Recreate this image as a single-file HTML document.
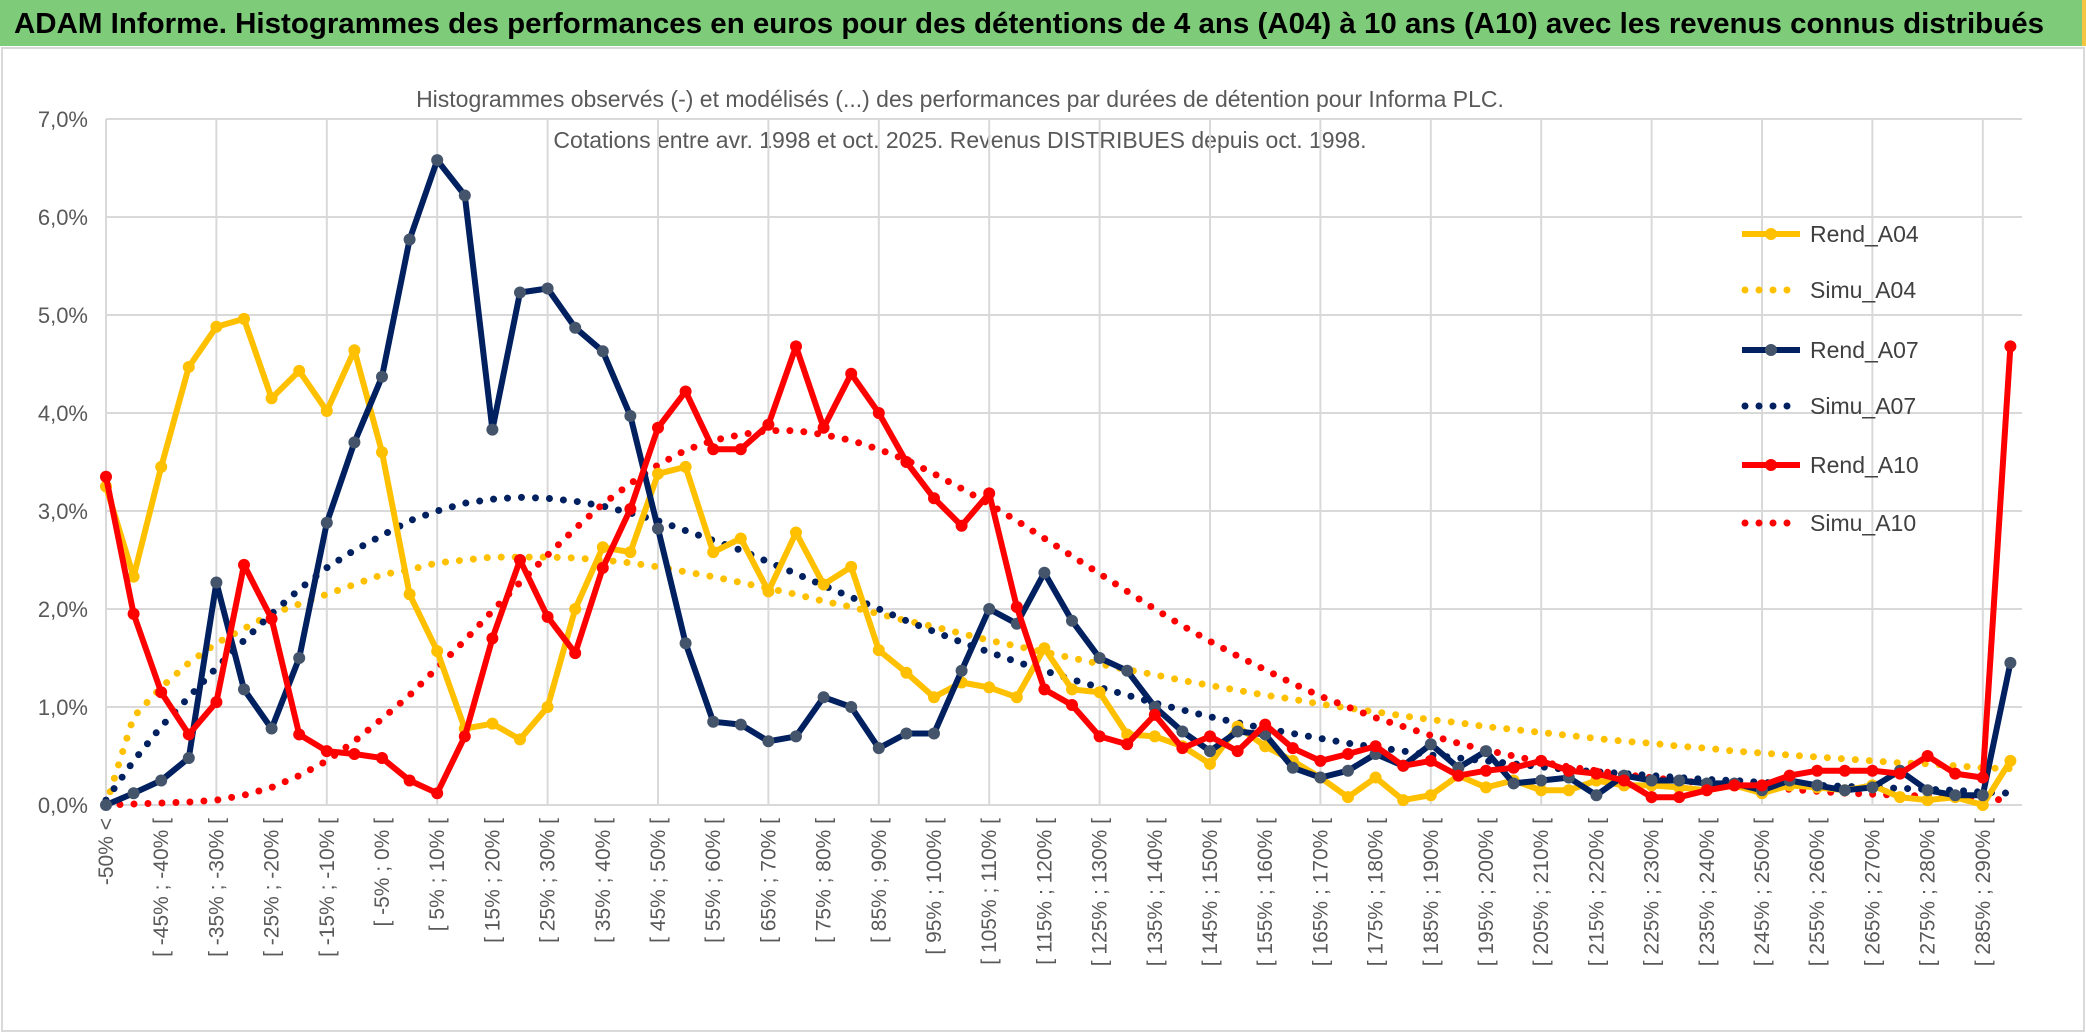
<!DOCTYPE html>
<html><head><meta charset="utf-8"><style>
html,body{margin:0;padding:0;background:#fff;}
svg{display:block;font-family:"Liberation Sans",sans-serif;}
</style></head><body>
<svg id="chart" width="2086" height="1033" viewBox="0 0 2086 1033" xmlns="http://www.w3.org/2000/svg">
<rect x="0" y="0" width="2086" height="1033" fill="#fff"/>
<rect x="0" y="0" width="2086" height="46" fill="#7ecb7a"/>
<rect x="2082" y="0" width="4" height="46" fill="#f5c542"/>
<text x="14" y="33" font-size="29" font-weight="bold" fill="#000" textLength="2030" lengthAdjust="spacingAndGlyphs">ADAM Informe. Histogrammes des performances en euros pour des détentions de 4 ans (A04) à 10 ans (A10) avec les revenus connus distribués</text>
<rect x="2" y="48" width="2082" height="983" fill="none" stroke="#d9d9d9" stroke-width="2"/>
<text x="960" y="107" font-size="23" fill="#595959" text-anchor="middle">Histogrammes observés (-) et modélisés (...) des performances par durées de détention pour Informa PLC.</text>
<text x="960" y="148" font-size="23" fill="#595959" text-anchor="middle">Cotations entre avr. 1998 et oct. 2025. Revenus DISTRIBUES depuis oct. 1998.</text>
<g id="grid"></g>
<g id="yticks"></g>
<g id="xticks"></g>
<g id="series"></g>
<g id="legend"></g>
</svg>
<script>
const categoriesCount = 70;
const yTicks = ["0,0%","1,0%","2,0%","3,0%","4,0%","5,0%","6,0%","7,0%"];
const rendA04 = [3.25,2.33,3.45,4.47,4.88,4.96,4.15,4.43,4.02,4.64,3.6,2.15,1.57,0.78,0.83,0.67,1.0,2.0,2.63,2.58,3.38,3.45,2.58,2.72,2.18,2.78,2.25,2.43,1.58,1.35,1.1,1.25,1.2,1.1,1.6,1.18,1.15,0.72,0.7,0.6,0.42,0.8,0.6,0.45,0.28,0.08,0.28,0.05,0.1,0.3,0.18,0.25,0.15,0.15,0.25,0.2,0.2,0.18,0.15,0.2,0.12,0.2,0.18,0.15,0.2,0.08,0.05,0.08,0.0,0.45];
const simuA04 = [0,0.9,1.2,1.45,1.65,1.8,1.95,2.05,2.15,2.25,2.35,2.4,2.47,2.5,2.53,2.53,2.53,2.52,2.5,2.47,2.43,2.38,2.33,2.27,2.21,2.15,2.08,2.02,1.95,1.88,1.82,1.75,1.68,1.62,1.56,1.5,1.44,1.38,1.33,1.27,1.22,1.17,1.12,1.08,1.03,0.99,0.95,0.91,0.87,0.84,0.8,0.77,0.74,0.71,0.68,0.65,0.63,0.6,0.58,0.55,0.53,0.51,0.49,0.47,0.45,0.43,0.42,0.4,0.38,0.37];
const rendA07 = [0.0,0.12,0.25,0.48,2.27,1.18,0.78,1.5,2.88,3.7,4.37,5.77,6.58,6.22,3.83,5.23,5.27,4.87,4.63,3.97,2.82,1.65,0.85,0.82,0.65,0.7,1.1,1.0,0.58,0.73,0.73,1.37,2.0,1.85,2.37,1.88,1.5,1.37,1.0,0.75,0.55,0.75,0.72,0.38,0.28,0.35,0.52,0.4,0.62,0.38,0.55,0.22,0.25,0.28,0.1,0.3,0.25,0.25,0.22,0.22,0.15,0.25,0.2,0.15,0.18,0.35,0.15,0.1,0.1,1.45];
const simuA07 = [0.05,0.45,0.8,1.1,1.4,1.68,1.95,2.2,2.42,2.6,2.75,2.9,3.0,3.08,3.12,3.14,3.13,3.1,3.05,2.98,2.9,2.8,2.7,2.6,2.48,2.36,2.24,2.12,2.0,1.88,1.77,1.66,1.56,1.46,1.37,1.28,1.2,1.12,1.04,0.97,0.9,0.84,0.78,0.73,0.68,0.63,0.59,0.55,0.51,0.48,0.45,0.42,0.39,0.36,0.34,0.32,0.3,0.28,0.26,0.25,0.23,0.22,0.2,0.19,0.18,0.17,0.16,0.15,0.13,0.12];
const rendA10 = [3.35,1.95,1.15,0.72,1.05,2.45,1.9,0.72,0.55,0.52,0.48,0.25,0.12,0.7,1.7,2.5,1.92,1.55,2.42,3.02,3.85,4.22,3.63,3.63,3.88,4.68,3.85,4.4,4.0,3.5,3.13,2.85,3.18,2.02,1.18,1.02,0.7,0.62,0.92,0.58,0.7,0.55,0.82,0.58,0.45,0.52,0.6,0.4,0.45,0.3,0.35,0.38,0.45,0.35,0.32,0.25,0.08,0.08,0.15,0.2,0.2,0.3,0.35,0.35,0.35,0.32,0.5,0.32,0.28,4.68];
const simuA10 = [0,0.01,0.02,0.03,0.05,0.1,0.18,0.3,0.45,0.65,0.88,1.12,1.4,1.68,1.98,2.27,2.55,2.82,3.07,3.28,3.47,3.62,3.72,3.78,3.82,3.82,3.78,3.72,3.63,3.52,3.38,3.23,3.07,2.9,2.72,2.54,2.36,2.18,2.0,1.83,1.67,1.52,1.38,1.24,1.11,1.0,0.89,0.8,0.71,0.63,0.56,0.5,0.44,0.39,0.35,0.31,0.28,0.25,0.22,0.2,0.18,0.16,0.14,0.12,0.11,0.1,0.09,0.08,0.06,0.05];
const legendNames = ["Rend_A04","Simu_A04","Rend_A07","Simu_A07","Rend_A10","Simu_A10"];

const NS="http://www.w3.org/2000/svg";
const X0=106, DX=27.6, Y0=805, PY=98, XR=2022;
const xs=i=>X0+i*DX, ys=v=>Y0-v*PY;
function mk(tag,attrs,parent){const e=document.createElementNS(NS,tag);for(const k in attrs)e.setAttribute(k,attrs[k]);parent.appendChild(e);return e;}
function catLabel(i){if(i===0)return "-50% <";const s=-55+5*i;return "[ "+s+"% ; "+(s+5)+"% [";}

const grid=document.getElementById('grid');
for(let t=0;t<yTicks.length;t++){
  const l=mk('line',{x1:X0,x2:XR,y1:ys(t),y2:ys(t),stroke:'#d9d9d9','stroke-width':2},grid);
  
  
}
for(let i=0;i<categoriesCount;i+=4){
  const l=mk('line',{x1:xs(i),x2:xs(i),y1:ys(7),y2:ys(0),stroke:'#d9d9d9','stroke-width':2},grid);
  
  
}
const yt=document.getElementById('yticks');
yTicks.forEach((t,k)=>{
  const e=mk('text',{x:88,y:ys(k)+8,'font-size':22,fill:'#595959','text-anchor':'end'},yt);
  e.textContent=t;
  
  
});
const xt=document.getElementById('xticks');
for(let i=0;i<categoriesCount;i+=2){
  const x=xs(i)+7, y=818;
  const e=mk('text',{x:x,y:y,'font-size':21,fill:'#595959','text-anchor':'end',transform:`rotate(-90 ${x} ${y})`},xt);
  e.textContent=catLabel(i);
  
  
}
const sg=document.getElementById('series');
function pathOf(arr){return arr.map((v,i)=>(i?'L':'M')+xs(i).toFixed(1)+' '+ys(v).toFixed(1)).join(' ');}
function dotted(arr,color,name){
  const p=mk('path',{d:pathOf(arr),fill:'none',stroke:color,'stroke-width':7,'stroke-linecap':'round','stroke-dasharray':'0 14'},sg);
  
  
}
function solid(arr,color,mcolor,name){
  const g=mk('g',{},sg);
  
  
  mk('path',{d:pathOf(arr),fill:'none',stroke:color,'stroke-width':6,'stroke-linejoin':'round'},g);
  arr.forEach((v,i)=>{
    const c=mk('circle',{cx:xs(i),cy:ys(v),r:6,fill:mcolor},g);
    
    
  });
}
dotted(simuA04,'#FFC000','simu-a04-line');
dotted(simuA07,'#002060','simu-a07-line');
dotted(simuA10,'#FF0000','simu-a10-line');
solid(rendA04,'#FFC000','#FFC000','rend-a04-line');
solid(rendA07,'#002060','#44546a','rend-a07-line');
solid(rendA10,'#FF0000','#FF0000','rend-a10-line');

const lg=document.getElementById('legend');
const lcol=['#FFC000','#FFC000','#002060','#002060','#FF0000','#FF0000'];
const lmk=['#FFC000','#FFC000','#44546a','#002060','#FF0000','#FF0000'];
const lys=[234,290,350,406,465,523];
legendNames.forEach((n,k)=>{
  const g=mk('g',{},lg);
  
  
  if(k%2===0){
    mk('line',{x1:1742,x2:1800,y1:lys[k],y2:lys[k],stroke:lcol[k],'stroke-width':6},g);
    mk('circle',{cx:1771,cy:lys[k],r:6,fill:lmk[k]},g);
  } else {
    mk('line',{x1:1745,x2:1800,y1:lys[k],y2:lys[k],stroke:lcol[k],'stroke-width':7,'stroke-linecap':'round','stroke-dasharray':'0 14'},g);
  }
  const t=mk('text',{x:1810,y:lys[k]+8,'font-size':23,fill:'#404040'},g);
  t.textContent=n;
});
</script>
</body></html>
